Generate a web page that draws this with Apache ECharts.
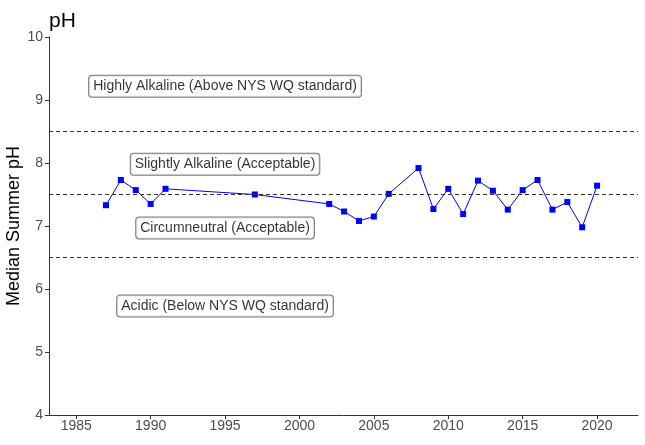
<!DOCTYPE html>
<html>
<head>
<meta charset="utf-8">
<script src="https://cdn.jsdelivr.net/npm/echarts@6/dist/echarts.min.js"></script>
<style>
html,body{margin:0;padding:0;background:#fff;}
#chart{width:645px;height:445px;}
</style>
</head>
<body>
<div id="chart"></div>
<script>
var years = [1987, 1988, 1989, 1990, 1991, 1997, 2002, 2003, 2004, 2005, 2006, 2008, 2009, 2010, 2011, 2012, 2013, 2014, 2015, 2016, 2017, 2018, 2019, 2020];
var phValues = [7.33, 7.73, 7.57, 7.35, 7.59, 7.50, 7.35, 7.23, 7.08, 7.15, 7.51, 7.92, 7.27, 7.59, 7.19, 7.72, 7.56, 7.26, 7.57, 7.73, 7.26, 7.38, 6.98, 7.64];
var xTicks = [1985, 1990, 1995, 2000, 2005, 2010, 2015, 2020];
var thresholds = [6.5, 7.5, 8.5];
var zoneLabels = ["Highly Alkaline (Above NYS WQ standard)", "Slightly Alkaline (Acceptable)", "Circumneutral (Acceptable)", "Acidic (Below NYS WQ standard)"];
var zoneLabelX = [1995, 1995, 1995, 1995];
var zoneLabelY = [9.22, 7.98, 6.97, 5.73];

var font = 'Liberation Sans, Arial, sans-serif';
var chart = echarts.init(document.getElementById('chart'), null, {renderer: 'canvas'});
var lineData = years.map(function (y, i) { return [y, phValues[i]]; });
var labelData = zoneLabels.map(function (t, i) { return {value: [zoneLabelX[i], zoneLabelY[i]], name: t}; });

chart.setOption({
  animation: false,
  backgroundColor: '#fff',
  title: {
    text: 'pH', left: 49, top: 11, padding: 0,
    textStyle: {fontFamily: font, fontSize: 21, fontWeight: 'normal', color: '#000'}
  },
  grid: {left: 49, right: 7, top: 37, bottom: 30, containLabel: false, outerBoundsMode: 'none'},
  xAxis: {
    type: 'value', min: 1983.17, max: 2022.75,
    axisLine: {show: true, lineStyle: {color: '#333', width: 1}},
    axisTick: {show: true, length: 4, lineStyle: {color: '#333'}, customValues: xTicks},
    axisLabel: {customValues: xTicks, color: '#4d4d4d', fontFamily: font, fontSize: 14, margin: 4,
      formatter: function (v) { return String(v); }},
    splitLine: {show: false}
  },
  yAxis: {
    type: 'value', min: 4, max: 10, interval: 1,
    name: 'Median Summer pH', nameLocation: 'middle', nameGap: 26, nameMoveOverlap: false,
    nameTextStyle: {fontFamily: font, fontSize: 18, color: '#000'},
    axisLine: {show: true, lineStyle: {color: '#333', width: 1}},
    axisTick: {show: true, length: 4, lineStyle: {color: '#333'}},
    axisLabel: {color: '#4d4d4d', fontFamily: font, fontSize: 14, margin: 6},
    splitLine: {show: false}
  },
  series: [
    {
      type: 'line',
      data: lineData,
      symbol: 'rect', symbolSize: 6,
      lineStyle: {color: '#0000ff', width: 1},
      itemStyle: {color: '#0000ff'},
      z: 3,
      markLine: {
        silent: true, symbol: 'none', label: {show: false},
        lineStyle: {color: '#333', type: [4, 3], width: 1},
        data: thresholds.map(function (t) { return {yAxis: t}; })
      }
    },
    {
      type: 'scatter',
      data: labelData,
      symbolSize: 1,
      itemStyle: {color: 'rgba(0,0,0,0)'},
      z: 5,
      labelLayout: {hideOverlap: false},
      label: {
        show: true, position: 'inside',
        formatter: function (p) { return p.name; },
        fontFamily: font, fontSize: 14, color: '#000', lineHeight: 15,
        backgroundColor: '#fff', borderColor: '#555', borderWidth: 1, borderRadius: 3,
        padding: [3, 4, 3, 4]
      }
    }
  ]
});
</script>
</body>
</html>
